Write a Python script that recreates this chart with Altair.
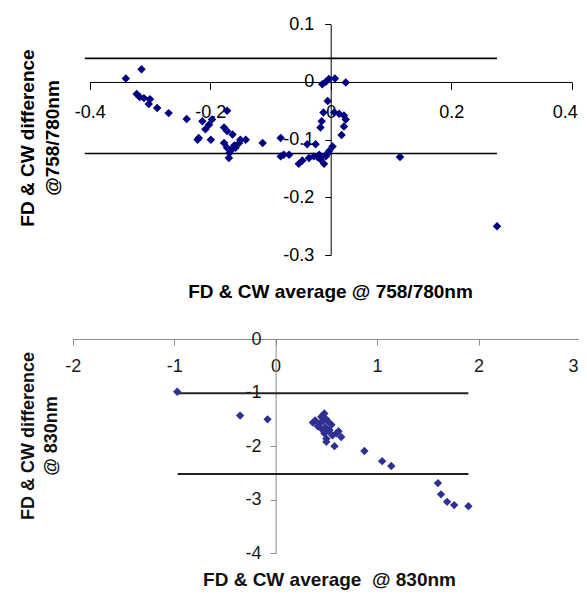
import altair as alt
import pandas as pd

# ---------------- data ----------------
# Top panel: 758/780 nm
top_avg = [-0.340, -0.314, -0.322, -0.317, -0.310, -0.300, -0.302, -0.288, -0.269, -0.239,
           -0.213, -0.197, -0.202, -0.208, -0.219, -0.221, -0.199, -0.172, -0.177, -0.172,
           -0.163, -0.177, -0.172, -0.168, -0.169, -0.158, -0.152, -0.150, -0.141, -0.113,
           -0.083, -0.083, -0.078, -0.069, -0.053, -0.047, -0.039, -0.025, -0.036, -0.028,
           -0.019, -0.017, -0.011, -0.008, -0.003, 0.003, -0.014, -0.008, -0.003, 0.007,
           0.025, -0.005, -0.012, 0.006, 0.014, 0.022, 0.025, -0.015, -0.017, 0.022,
           0.018, 0.115, 0.276, -0.165, -0.160, -0.022, -0.006]
top_diff = [0.006, 0.022, -0.021, -0.026, -0.028, -0.030, -0.038, -0.045, -0.054, -0.064,
            -0.068, -0.065, -0.074, -0.082, -0.097, -0.100, -0.100, -0.050, -0.079, -0.085,
            -0.091, -0.106, -0.114, -0.123, -0.132, -0.114, -0.106, -0.100, -0.100, -0.106,
            -0.097, -0.129, -0.126, -0.126, -0.142, -0.136, -0.108, -0.108, -0.132, -0.129,
            -0.126, -0.134, -0.142, -0.129, -0.120, -0.112, -0.004, 0.0005, 0.005, 0.006,
            -0.001, -0.033, -0.053, -0.053, -0.055, -0.058, -0.065, -0.068, -0.079, -0.077,
            -0.092, -0.130, -0.250, -0.118, -0.110, -0.130, -0.125]
top_limits = [0.041, -0.124]
top_limit_x = [-0.408, 0.276]
top_xticks = [-0.4, -0.2, 0, 0.2, 0.4]
top_yticks = [-0.3, -0.2, -0.1, 0, 0.1]

# Bottom panel: 830 nm
bot_avg = [-0.97, -0.35, -0.08, 0.48, 0.465, 0.50, 0.367, 0.416, 0.449, 0.49,
           0.531, 0.48, 0.60, 0.646, 0.50, 0.58, 0.50, 0.875, 1.05, 1.14,
           1.60, 1.63, 1.69, 1.76, 1.90,
           0.45, 0.52, 0.55, 0.43, 0.62, 0.56, 0.52, 0.47, 0.39]
bot_diff = [-0.985, -1.43, -1.50, -1.39, -1.48, -1.50, -1.56, -1.63, -1.67, -1.65,
            -1.70, -1.76, -1.76, -1.83, -1.86, -2.00, -1.92, -2.09, -2.28, -2.37,
            -2.69, -2.90, -3.04, -3.10, -3.12,
            -1.45, -1.55, -1.60, -1.58, -1.72, -1.80, -1.72, -1.53, -1.52]
bot_limits = [-1.013, -2.52]
bot_limit_x = [-0.965, 1.90]
bot_xticks = [-2, -1, 0, 1, 2, 3]
bot_yticks = [-4, -3, -2, -1, 0]

# ---------------- layout ----------------
W, H = 571, 582
FONT = "Liberation Sans"

top_xdom, top_xrng = [-0.4, 0.4], [81.7, 563.7]
top_ydom, top_yrng = [-0.3, 0.1], [247.0, 16.3]
bot_xdom, bot_xrng = [-2, 3], [64.7, 572.0]
bot_ydom, bot_yrng = [-4, 0], [545.3, 331.0]


def at(v, dom, rng):
    return rng[0] + (v - dom[0]) / (dom[1] - dom[0]) * (rng[1] - rng[0])


top_x0 = at(0, top_xdom, top_xrng)
top_y0 = at(0, top_ydom, top_yrng)
bot_x0 = at(0, bot_xdom, bot_xrng)
bot_y0 = at(0, bot_ydom, bot_yrng)

lbl1 = "datum.value < 0 ? '-' + format(-datum.value, '.1~f') : format(datum.value, '.1~f')"
lbl0 = "datum.value < 0 ? '-' + format(-datum.value, 'd') : format(datum.value, 'd')"

top_xs = alt.Scale(domain=top_xdom, range=top_xrng, nice=False, zero=False)
top_ys = alt.Scale(domain=top_ydom, range=top_yrng, nice=False, zero=False)
bot_xs = alt.Scale(domain=bot_xdom, range=bot_xrng, nice=False, zero=False)
bot_ys = alt.Scale(domain=bot_ydom, range=bot_yrng, nice=False, zero=False)

common = dict(grid=False, labelOverlap=False, labelFlush=False, labelFont=FONT,
              labelFontSize=18, titleFont=FONT, titleFontWeight="bold",
              domainWidth=1, tickWidth=1)

top_xaxis = alt.Axis(orient="bottom", offset=top_y0 - H, values=top_xticks, labelExpr=lbl1,
                     domainColor="black", tickColor="black", labelColor="black",
                     tickSize=7.5, labelPadding=14,
                     labelOffset={"condition": {"test": "datum.value > 0.35", "value": -7},
                                  "value": 0},
                     title="FD & CW average @ 758/780nm", titleFontSize=19, titleColor="black",
                     titleX=322, titleY=289.3 - top_y0, titleBaseline="alphabetic",
                     titleAlign="center", **common)
top_yaxis = alt.Axis(orient="left", offset=-top_x0, values=top_yticks, labelExpr=lbl1,
                     domainColor="black", tickColor="black", labelColor="black",
                     tickSize=6, labelPadding=11,
                     title=["FD & CW difference", "@758/780nm"], titleFontSize=19,
                     titleColor="black", titleAngle=270, titleLineHeight=25,
                     titleX=25.3 - top_x0, titleY=129.5, titleBaseline="alphabetic",
                     titleAlign="center", **common)

bot_xaxis = alt.Axis(orient="bottom", offset=bot_y0 - H, values=bot_xticks, labelExpr=lbl0,
                     domainColor="#8c8c8c", tickColor="#8c8c8c", labelColor="#1a1a1a",
                     tickSize=6, labelPadding=12.5,
                     labelOffset={"condition": {"test": "datum.value > 2.5", "value": -7},
                                  "value": 0},
                     title="FD & CW average\u00a0 @ 830nm", titleFontSize=19,
                     titleColor="#111111",
                     titleX=321, titleY=577 - bot_y0, titleBaseline="alphabetic",
                     titleAlign="center", **common)
bot_yaxis = alt.Axis(orient="left", offset=-bot_x0, values=bot_yticks, labelExpr=lbl0,
                     domainColor="#8c8c8c", tickColor="#8c8c8c", labelColor="#1a1a1a",
                     tickSize=5.5, labelPadding=9,
                     title=["FD & CW difference", "@ 830nm"], titleFontSize=18,
                     titleColor="#111111", titleAngle=270, titleLineHeight=23.5,
                     titleX=25 - bot_x0, titleY=427.5, titleBaseline="alphabetic",
                     titleAlign="center", **common)

top_df = pd.DataFrame({"avg": top_avg, "diff": top_diff})
top_lines = pd.DataFrame({"x1": [top_limit_x[0]] * 2, "x2": [top_limit_x[1]] * 2, "y": top_limits})
bot_df = pd.DataFrame({"avg": bot_avg, "diff": bot_diff})
bot_lines = pd.DataFrame({"x1": [bot_limit_x[0]] * 2, "x2": [bot_limit_x[1]] * 2, "y": bot_limits})

top_rules = alt.Chart(top_lines).mark_rule(color="black", strokeWidth=1.6, clip=False).encode(
    x=alt.X("x1:Q", scale=top_xs, axis=top_xaxis),
    x2="x2:Q",
    y=alt.Y("y:Q", scale=top_ys, axis=top_yaxis),
)
top_pts = alt.Chart(top_df).mark_point(shape="diamond", filled=True, size=72, color="#000080",
                                       opacity=1, clip=False).encode(
    x=alt.X("avg:Q", scale=top_xs, axis=top_xaxis),
    y=alt.Y("diff:Q", scale=top_ys, axis=top_yaxis),
)

bot_rules = alt.Chart(bot_lines).mark_rule(color="#222222", strokeWidth=2, clip=False).encode(
    x=alt.X("x1:Q", scale=bot_xs, axis=bot_xaxis),
    x2="x2:Q",
    y=alt.Y("y:Q", scale=bot_ys, axis=bot_yaxis),
)
bot_pts = alt.Chart(bot_df).mark_point(shape="diamond", filled=True, size=70, color="#2e3192",
                                       opacity=1, clip=False).encode(
    x=alt.X("avg:Q", scale=bot_xs, axis=bot_xaxis),
    y=alt.Y("diff:Q", scale=bot_ys, axis=bot_yaxis),
)

chart = (
    alt.layer(alt.layer(top_rules, top_pts), alt.layer(bot_rules, bot_pts))
    .resolve_scale(x="independent", y="independent")
    .resolve_axis(x="independent", y="independent")
    .properties(width=W, height=H, padding=0, autosize=alt.AutoSizeParams(type="none"),
                background="white")
    .configure_view(stroke=None)
)

chart.save("out.html", embed_options={"renderer": "svg", "actions": False})
